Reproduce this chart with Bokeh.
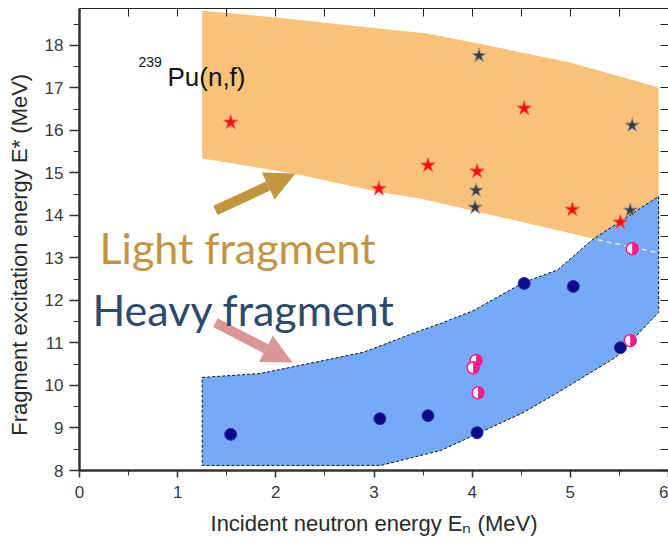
import numpy as np
from bokeh.plotting import figure
from bokeh.models import (LinearAxis, Label, Arrow, NormalHead, Range1d,
                          SingleIntervalTicker, FixedTicker)
from bokeh.embed import file_html
from bokeh.resources import INLINE

# ---------------- data ----------------
# light-fragment band (orange), outline points
light_band_x = [1.25, 2.0, 3.0, 3.54, 4.01, 5.0, 5.9, 5.9, 5.23, 4.5, 3.47, 3.05, 2.18, 1.25]
light_band_y = [18.82, 18.66, 18.41, 18.28, 18.07, 17.6, 17.01, 13.12, 13.46, 13.85, 14.4, 14.55, 14.99, 15.34]
# heavy-fragment band (blue): upper edge then lower edge
heavy_top_x = [1.25, 1.84, 2.89, 3.47, 3.68, 4.01, 4.52, 4.87, 5.23, 5.9]
heavy_top_y = [10.19, 10.28, 10.78, 11.29, 11.46, 11.76, 12.42, 12.72, 13.44, 14.45]
heavy_bot_x = [5.9, 5.46, 4.87, 4.52, 4.01, 3.68, 3.47, 3.07, 1.25]
heavy_bot_y = [11.72, 10.66, 9.83, 9.36, 8.82, 8.47, 8.35, 8.12, 8.12]
# faint continuation of light band lower edge over the blue band
edge_x = [5.28, 5.9]
edge_y = [13.43, 13.12]

red_star_x = [1.54, 3.05, 3.55, 4.05, 4.53, 5.02, 5.51]
red_star_y = [16.19, 14.63, 15.18, 15.04, 16.52, 14.14, 13.84]
dark_star_x = [4.07, 5.63, 4.04, 4.03, 5.61]
dark_star_y = [17.76, 16.12, 14.59, 14.19, 14.12]
navy_x = [1.54, 3.06, 3.55, 4.05, 4.53, 5.03, 5.51]
navy_y = [8.85, 9.22, 9.29, 8.89, 12.40, 12.33, 10.89]
pink_x = [4.04, 4.01, 4.06, 5.61, 5.63]
pink_y = [10.59, 10.42, 9.83, 11.06, 13.22]

x_minor_ticks = [0, 0.5, 1, 1.5, 2, 2.5, 3, 3.5, 4, 4.5, 5, 5.5, 6]
y_minor_ticks = [8, 8.5, 9, 9.5, 10, 10.5, 11, 11.5, 12, 12.5, 13, 13.5, 14,
                 14.5, 15, 15.5, 16, 16.5, 17, 17.5, 18, 18.5]

x_title = "Incident neutron energy E\u2099 (MeV)"
y_title = "Fragment excitation energy E* (MeV)"

# ---------------- figure ----------------
p = figure(width=668, height=544, output_backend="svg", toolbar_location=None,
           x_range=Range1d(0, 6), y_range=Range1d(8, 18.87),
           min_border_left=79, min_border_right=0, min_border_top=8,
           min_border_bottom=74, x_axis_location=None, y_axis_location=None)
p.grid.visible = False
p.outline_line_color = None
p.background_fill_color = "white"
p.border_fill_color = "white"

FONT = "Liberation Sans"

bottom = LinearAxis(ticker=SingleIntervalTicker(interval=1, num_minor_ticks=2),
                    axis_label=x_title)
bottom.axis_line_width = 2.5
bottom.axis_line_color = "#333333"
bottom.major_tick_line_color = "#333333"
bottom.minor_tick_line_color = "#333333"
bottom.major_tick_line_width = 1.5
bottom.major_tick_out = 7
bottom.major_tick_in = 0
bottom.minor_tick_out = 5
bottom.minor_tick_in = 0
bottom.major_label_standoff = 8
bottom.major_label_text_font = FONT
bottom.major_label_text_font_size = "17px"
bottom.major_label_text_color = "#3a3a3a"
bottom.axis_label_text_font = FONT
bottom.axis_label_text_font_size = "22px"
bottom.axis_label_text_font_style = "normal"
bottom.axis_label_text_color = "#2a2a2a"
bottom.axis_label_standoff = 10
p.add_layout(bottom, "below")

left = LinearAxis(ticker=SingleIntervalTicker(interval=1, num_minor_ticks=2),
                  axis_label=y_title + "\u00a0" * 5)
left.axis_line_width = 2.5
left.axis_line_color = "#333333"
left.major_tick_line_color = "#333333"
left.minor_tick_line_color = "#333333"
left.major_tick_line_width = 1.5
left.major_tick_out = 10
left.major_tick_in = 0
left.minor_tick_out = 6
left.minor_tick_in = 0
left.major_label_standoff = 6
left.major_label_text_font = FONT
left.major_label_text_font_size = "17px"
left.major_label_text_color = "#3a3a3a"
left.axis_label_text_font = FONT
left.axis_label_text_font_size = "22px"
left.axis_label_text_font_style = "normal"
left.axis_label_text_color = "#2a2a2a"
left.axis_label_standoff = 10
p.add_layout(left, "left")

top = LinearAxis(ticker=FixedTicker(ticks=[], minor_ticks=x_minor_ticks))
top.axis_line_color = "#222222"
top.minor_tick_in = 8
top.minor_tick_out = 0
top.minor_tick_line_color = "#222222"
top.major_label_standoff = 0
p.add_layout(top, "above")

right = LinearAxis(ticker=FixedTicker(ticks=[], minor_ticks=y_minor_ticks))
right.axis_line_color = "#222222"
right.minor_tick_in = 8
right.minor_tick_out = 0
right.minor_tick_line_color = "#222222"
right.major_label_standoff = 0
p.add_layout(right, "right")

# ---------------- bands ----------------
p.patch(light_band_x, light_band_y, fill_color="#F8C27B", line_color=None)
p.patch(heavy_top_x + heavy_bot_x, heavy_top_y + heavy_bot_y,
        fill_color="#76AAF6", line_color="#111111", line_width=1, line_dash="3 2")
p.line(edge_x, edge_y, line_color="#F4E4EC", line_width=1.5, line_dash="5 4")

# ---------------- markers ----------------
p.scatter(dark_star_x, dark_star_y, marker="star", size=15,
          fill_color="#3c3c3c", line_color="#9a9a9a", line_width=1)
p.scatter(red_star_x, red_star_y, marker="star", size=15,
          fill_color="#FF0A0A", line_color="#FF5050", line_width=1)
p.scatter(navy_x, navy_y, marker="circle", size=12,
          fill_color="#0A0A8C", line_color="#3030A0", line_width=1)
p.scatter(pink_x, pink_y, marker="circle", size=12,
          fill_color="white", line_color="#FF1A8C", line_width=1.5)
p.wedge(pink_x, pink_y, radius=6, radius_units="screen",
        start_angle=-np.pi / 2, end_angle=np.pi / 2,
        fill_color="#FF1A8C", line_color=None)

# ---------------- arrows ----------------
p.add_layout(Arrow(x_start=1.385, y_start=14.12, x_end=2.20, y_end=14.99,
                   line_color="#C1963F", line_width=10,
                   end=NormalHead(size=30, fill_color="#C1963F", line_color=None)))
p.add_layout(Arrow(x_start=1.385, y_start=11.48, x_end=2.17, y_end=10.54,
                   line_color="#DA9795", line_width=10,
                   end=NormalHead(size=30, fill_color="#DA9795", line_color=None)))

# ---------------- texts ----------------
p.add_layout(Label(x=0.60, y=17.62, text="239", text_font=FONT,
                   text_font_size="14px", text_color="#111111",
                   text_baseline="alphabetic"))
p.add_layout(Label(x=0.896, y=17.27, text="Pu(n,f)", text_font=FONT,
                   text_font_size="26px", text_color="#111111",
                   text_baseline="alphabetic"))
p.add_layout(Label(x=0.204, y=13.25, text="Light fragment", text_font="Lato",
                   text_font_size="43px", text_color="#C39542",
                   text_baseline="alphabetic"))
p.add_layout(Label(x=0.132, y=11.79, text="Heavy fragment", text_font="Lato",
                   text_font_size="43px", text_color="#2C4A6E",
                   text_baseline="alphabetic"))

open("out.html", "w").write(file_html(p, INLINE))
